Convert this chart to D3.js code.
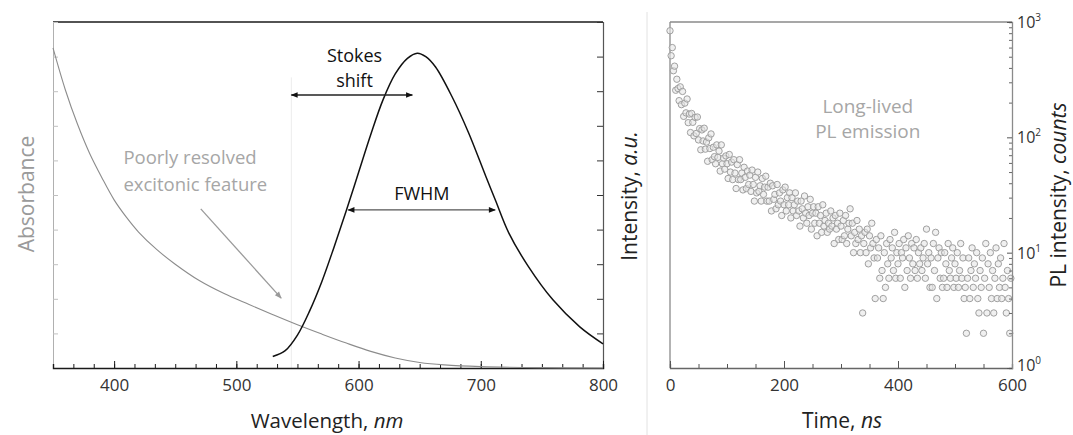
<!DOCTYPE html>
<html><head><meta charset="utf-8">
<script src="https://cdn.jsdelivr.net/npm/d3@7"></script>
<style>
body{margin:0;background:#fff}
text{font-family:"Open Sans","Noto Sans",sans-serif}
</style>
</head><body>
<svg id="c" width="1073" height="435"></svg>
<script>
// ---------- Left panel data (wavelength nm, arbitrary units 0-10) ----------
const absWavelength = [350, 360, 370, 380, 390, 400, 410, 420, 435, 450, 470, 490, 510, 530, 550, 570, 590, 610, 630, 650, 670, 700, 750, 800];
const absValue      = [9.25, 8.05, 7.05, 6.2, 5.5, 4.86, 4.36, 3.93, 3.42, 3.0, 2.52, 2.15, 1.84, 1.54, 1.25, 0.98, 0.72, 0.48, 0.29, 0.16, 0.09, 0.04, 0.01, 0.0];
const emWavelength  = [529.8, 540, 550, 560, 570, 580, 590, 600, 610, 620, 630, 640, 648, 655, 663, 676.5, 690, 704, 712, 723, 739, 759, 781, 800];
const emValue       = [0.33, 0.5, 0.95, 1.65, 2.5, 3.5, 4.55, 5.65, 6.75, 7.75, 8.5, 8.95, 9.1, 9.0, 8.7, 7.84, 6.8, 5.55, 4.85, 3.9, 2.93, 1.97, 1.19, 0.7];
const wlTickLabels  = [400, 500, 600, 700, 800];

// ---------- Right panel data (PL decay, counts per 2 ns bin) ----------
const timeStepNs = 2;
const decayCounts = [
 840,510,600,378,414,256,319,265,208,274,
 192,250,152,198,163,215,134,159,110,161,
 135,103,149,108,150,95,119,78,116,93,
 120,79,91,62,99,80,107,64,82,68,
 59,86,67,76,51,86,59,66,53,69,
 59,44,71,50,61,43,64,49,36,58,
 43,64,43,49,35,55,45,36,51,39,
 47,34,52,39,28,45,33,50,34,38,
 28,44,32,37,46,28,37,28,40,23,
 38,29,32,24,39,26,33,28,21,35,
 26,37,23,30,26,33,20,30,23,26,
 33,21,28,23,17,28,24,20,31,22,
 18,25,21,29,16,22,25,18,22,14,
 25,18,21,15,26,17,19,22,15,18,
 16,23,17,20,12,21,16,18,13,22,
 17,13,19,14,21,12,16,18,24,14,
 18,10,15,12,19,13,16,10,14,3,
 12,15,10,16,8,14,11,18,12,9,
 4,13,9,11,6,14,7,4,10,5,
 12,8,6,13,9,11,7,15,6,10,
 8,12,6,10,9,13,5,11,7,14,
 9,6,12,8,11,7,13,6,10,8,
 11,7,9,12,6,16,8,10,5,9,
 5,12,7,15,4,9,11,6,10,5,
 6,10,8,5,12,7,6,9,11,5,
 8,6,10,5,7,12,6,9,4,5,
 2,6,9,4,7,11,5,8,6,10,
 4,3,7,5,9,2,6,12,3,8,
 5,10,4,7,3,6,11,4,8,5,
 9,4,6,12,5,3,7,4,2,6
];
const timeTickLabels = [0, 200, 400, 600];
const logTickLabels  = [1, 10, 100, 1000];

const svg = d3.select("#c");
const dark = "#1a1a1a";
const FONT = '"Open Sans",sans-serif';

// ================= LEFT PANEL =================
const xL = d3.scaleLinear().domain([350, 800]).range([53, 603]);
const yL = d3.scaleLinear().domain([0, 10]).range([368, 22]);
const gL = svg.append("g");

gL.append("line").attr("x1", xL(545)).attr("x2", xL(545)).attr("y1", yL(8.4)).attr("y2", yL(0))
  .attr("stroke", "#ececec").attr("stroke-width", 1);

gL.append("line").attr("x1", xL(350)).attr("x2", xL(800)).attr("y1", yL(10)).attr("y2", yL(10))
  .attr("stroke", dark).attr("stroke-width", 1.3);

const leftAx = gL.append("g").attr("transform", `translate(${xL(350)},0)`)
  .call(d3.axisLeft(yL).tickValues(d3.range(0, 11)).tickSize(-5).tickFormat(""));
leftAx.select(".domain").attr("stroke", "#b0b0b0");
leftAx.selectAll(".tick line").attr("stroke", "#c0c0c0");

const rightAx = gL.append("g").attr("transform", `translate(${xL(800)},0)`)
  .call(d3.axisRight(yL).tickValues(d3.range(0, 11)).tickSize(-6).tickFormat(""));
rightAx.select(".domain").attr("stroke", "#555").attr("stroke-width", 1.2);
rightAx.selectAll(".tick line").attr("stroke", "#333");

const minorWl = d3.range(0, 28).map(i => 350 + i * 100 / 6);
const bMinor = gL.append("g").attr("transform", `translate(0,${yL(0)})`)
  .call(d3.axisBottom(xL).tickValues(minorWl).tickSize(-4).tickFormat(""));
bMinor.select(".domain").attr("stroke", dark).attr("stroke-width", 1.4);
bMinor.selectAll(".tick line").attr("stroke", dark);
const bMajor = gL.append("g").attr("transform", `translate(0,${yL(0)})`)
  .call(d3.axisBottom(xL).tickValues(wlTickLabels).tickSize(-7).tickPadding(11));
bMajor.select(".domain").remove();
bMajor.selectAll(".tick line").attr("stroke", dark);
bMajor.selectAll(".tick text").attr("font-size", 17).attr("fill", "#333").style("font-family", FONT);

const absData = absWavelength.map((w, i) => [w, absValue[i]]);
const emData = emWavelength.map((w, i) => [w, emValue[i]]);
const line = d3.line().x(d => xL(d[0])).y(d => yL(d[1])).curve(d3.curveCatmullRom.alpha(0.5));
gL.append("path").datum(absData).attr("d", line).attr("fill", "none").attr("stroke", "#8c8c8c").attr("stroke-width", 1.1);
gL.append("path").datum(emData).attr("d", line).attr("fill", "none").attr("stroke", "#111").attr("stroke-width", 1.5);

const defs = svg.append("defs");
function marker(id, color) {
  defs.append("marker").attr("id", id).attr("viewBox", "0 -5 10 10").attr("refX", 9).attr("refY", 0)
    .attr("markerWidth", 9).attr("markerHeight", 7).attr("markerUnits", "userSpaceOnUse").attr("orient", "auto-start-reverse")
    .append("path").attr("d", "M0,-4L10,0L0,4Z").attr("fill", color);
}
marker("ab", "#111");
marker("ag", "#9a9a9a");

gL.append("line").attr("x1", xL(545)).attr("x2", xL(644)).attr("y1", yL(7.89)).attr("y2", yL(7.89))
  .attr("stroke", "#222").attr("stroke-width", 1.6)
  .attr("marker-start", "url(#ab)").attr("marker-end", "url(#ab)");
gL.append("line").attr("x1", xL(591.5)).attr("x2", xL(711.8)).attr("y1", yL(4.57)).attr("y2", yL(4.57))
  .attr("stroke", "#555").attr("stroke-width", 1.3)
  .attr("marker-start", "url(#ab)").attr("marker-end", "url(#ab)");
gL.append("line").attr("x1", xL(470.9)).attr("x2", xL(536.7)).attr("y1", yL(4.6)).attr("y2", yL(2.02))
  .attr("stroke", "#9a9a9a").attr("stroke-width", 1.3).attr("marker-end", "url(#ag)");

gL.append("text").attr("x", xL(596.7)).attr("y", yL(8.84)).attr("text-anchor", "middle").attr("font-size", 18).attr("fill", "#111").text("Stokes");
gL.append("text").attr("x", xL(596.7)).attr("y", yL(8.12)).attr("text-anchor", "middle").attr("font-size", 18).attr("fill", "#111").text("shift");
gL.append("text").attr("x", xL(651.8)).attr("y", yL(4.86)).attr("text-anchor", "middle").attr("font-size", 18).attr("fill", "#111").text("FWHM");
gL.append("text").attr("x", xL(407.6)).attr("y", yL(5.90)).attr("font-size", 18.5).attr("fill", "#a6a6a6").text("Poorly resolved");
gL.append("text").attr("x", xL(407.6)).attr("y", yL(5.12)).attr("font-size", 18.5).attr("fill", "#a6a6a6").text("excitonic feature");

svg.append("text").attr("transform", "translate(34,194) rotate(-90)").attr("text-anchor", "middle")
  .attr("font-size", 21).attr("fill", "#9a9a9a").text("Absorbance");
const tInt = svg.append("text").attr("transform", "translate(637,196) rotate(-90)").attr("text-anchor", "middle")
  .attr("font-size", 21).attr("fill", "#222");
tInt.append("tspan").text("Intensity, ");
tInt.append("tspan").attr("font-style", "italic").text("a.u.");
const tWl = svg.append("text").attr("x", 327).attr("y", 428).attr("text-anchor", "middle").attr("font-size", 20.5).attr("fill", "#222");
tWl.append("tspan").text("Wavelength, ");
tWl.append("tspan").attr("font-style", "italic").text("nm");

svg.append("line").attr("x1", 647).attr("x2", 647).attr("y1", 12).attr("y2", 435).attr("stroke", "#e2e2e2");

// ================= RIGHT PANEL =================
const xR = d3.scaleLinear().domain([0, 600]).range([670, 1012]);
const yR = d3.scaleLog().domain([1, 1000]).range([368, 22]);
const gR = svg.append("g");

gR.append("line").attr("x1", xR(0)).attr("x2", xR(600)).attr("y1", yR(1000)).attr("y2", yR(1000)).attr("stroke", "#8a8a8a").attr("stroke-width", 1.3);
gR.append("line").attr("x1", xR(0)).attr("x2", xR(0)).attr("y1", yR(1000)).attr("y2", yR(1)).attr("stroke", "#8a8a8a").attr("stroke-width", 1.3);

const decay = decayCounts.map((c, i) => [i * timeStepNs, c]);
gR.append("g").selectAll("circle").data(decay).join("circle")
  .attr("cx", d => xR(d[0])).attr("cy", d => yR(d[1])).attr("r", 3.2)
  .attr("fill", "#e6e6e6").attr("fill-opacity", 0.6).attr("stroke", "#a0a0a0").attr("stroke-width", 1);

const rMinor = gR.append("g").attr("transform", `translate(0,${yR(1)})`)
  .call(d3.axisBottom(xR).tickValues(d3.range(0, 601, 50)).tickSize(-4).tickFormat(""));
rMinor.select(".domain").attr("stroke", "#666").attr("stroke-width", 1.3);
rMinor.selectAll(".tick line").attr("stroke", "#555");
const rMajor = gR.append("g").attr("transform", `translate(0,${yR(1)})`)
  .call(d3.axisBottom(xR).tickValues(timeTickLabels).tickSize(-7).tickPadding(11));
rMajor.select(".domain").remove();
rMajor.selectAll(".tick line").attr("stroke", "#555");
rMajor.selectAll(".tick text").attr("font-size", 17).attr("fill", "#333").style("font-family", FONT);

const minorLog = [];
[1, 10, 100].forEach(d => { for (let k = 2; k <= 9; k++) minorLog.push(d * k); });
const rAx = gR.append("g").attr("transform", `translate(${xR(600)},0)`)
  .call(d3.axisRight(yR).tickValues(minorLog).tickSize(-3).tickFormat(""));
rAx.select(".domain").attr("stroke", "#8a8a8a").attr("stroke-width", 1.3);
rAx.selectAll(".tick line").attr("stroke", "#666");
const rAx2 = gR.append("g").attr("transform", `translate(${xR(600)},0)`)
  .call(d3.axisRight(yR).tickValues(logTickLabels).tickSize(-5).tickFormat(""));
rAx2.select(".domain").remove();
rAx2.selectAll(".tick line").attr("stroke", "#555");
logTickLabels.forEach(v => {
  const t = gR.append("text").attr("x", xR(600) + 5).attr("y", yR(v) + (v === 1 ? 3 : 6)).attr("font-size", 16).attr("fill", "#333");
  t.append("tspan").text("10");
  t.append("tspan").attr("font-size", 10).attr("dy", -7).text(String(Math.round(Math.log10(v))));
});

gR.append("text").attr("x", xR(347)).attr("y", yR(163)).attr("text-anchor", "middle").attr("font-size", 19).attr("fill", "#a6a6a6").text("Long-lived");
gR.append("text").attr("x", xR(347)).attr("y", yR(99)).attr("text-anchor", "middle").attr("font-size", 19).attr("fill", "#a6a6a6").text("PL emission");

const tTime = svg.append("text").attr("x", 842).attr("y", 428).attr("text-anchor", "middle").attr("font-size", 21).attr("fill", "#222");
tTime.append("tspan").text("Time, ");
tTime.append("tspan").attr("font-style", "italic").text("ns");
const tPL = svg.append("text").attr("transform", "translate(1066,195) rotate(-90)").attr("text-anchor", "middle").attr("font-size", 21).attr("fill", "#222");
tPL.append("tspan").text("PL intensity, ");
tPL.append("tspan").attr("font-style", "italic").text("counts");
</script>
</body></html>
